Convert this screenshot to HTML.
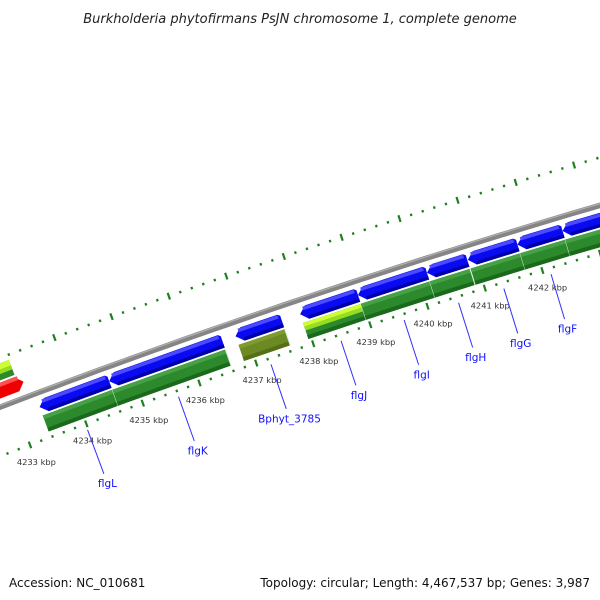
<!DOCTYPE html>
<html><head><meta charset="utf-8"><style>
html,body{margin:0;padding:0;background:#fff;}
svg{display:block;}
text{font-family:"DejaVu Sans","Liberation Sans",sans-serif;}
</style></head><body>
<svg id="map" width="600" height="600" viewBox="0 0 600 600" xmlns="http://www.w3.org/2000/svg">
<rect width="600" height="600" fill="#fff"/>
<text x="300" y="23" text-anchor="middle" font-size="13" font-style="italic" fill="#222">Burkholderia phytofirmans PsJN chromosome 1, complete genome</text>
<g id="ticks"></g>
<g id="backbone"></g>
<g id="features"></g>
<g id="labels"></g>
<text x="9" y="587" font-size="12" fill="#111">Accession: NC_010681</text>
<text x="590" y="587" text-anchor="end" font-size="12" fill="#111">Topology: circular; Length: 4,467,537 bp; Genes: 3,987</text>
</svg>
<script>
// data
const kbpTicks = [4233,4234,4235,4236,4237,4238,4239,4240,4241,4242];
const geneNames = ["flgL","flgK","Bphyt_3785","flgJ","flgI","flgH","flgG","flgF","flgE"];
const geneStarts = [4233.37,4234.60,4236.82,4237.95,4238.96,4240.16,4240.87,4241.73,4242.51];
const geneEnds = [4234.60,4236.59,4237.63,4238.96,4240.16,4240.86,4241.73,4242.51,4244.5];
const geneShowLabel = [true,true,true,true,true,true,true,true,false];
const fwdStarts = [4231.5];
const fwdEnds = [4233.27];

const NS = "http://www.w3.org/2000/svg";
const R = 8000, CX = 2848, CY = 7883, PHIM = -108.8*Math.PI/180, DPHI = 0.0075625, KM = 4237.5;
function pt(kbp, off){
  const phi = PHIM + (kbp-KM)*DPHI;
  const r = R + off;
  return [CX + r*Math.cos(phi), CY + r*Math.sin(phi)];
}
function mk(tag, attrs, parent){
  const e = document.createElementNS(NS, tag);
  for (const k in attrs) e.setAttribute(k, attrs[k]);
  parent.appendChild(e);
  return e;
}
function band(parent, a, b, o1, o2, fill){
  const p = [pt(a,o1),pt(b,o1),pt(b,o2),pt(a,o2)];
  return mk("polygon",{points:p.map(q=>q[0].toFixed(1)+","+q[1].toFixed(1)).join(" "),fill:fill},parent);
}
const gT = document.getElementById("ticks");
const gB = document.getElementById("backbone");
const gF = document.getElementById("features");
const gL = document.getElementById("labels");

// backbone
let d = "";
for (let k=4228;k<=4246;k+=0.25){const q=pt(k,0);d+=(d?"L":"M")+q[0].toFixed(1)+" "+q[1].toFixed(1);}
const bb = mk("path",{d:d,stroke:"#858585","stroke-width":5.5,fill:"none"},gB);


let d2="";
for (let k=4228;k<=4246;k+=0.25){const q=pt(k,1.6);d2+=(d2?"L":"M")+q[0].toFixed(1)+" "+q[1].toFixed(1);}
mk("path",{d:d2,stroke:"#b0b0b0","stroke-width":1.2,fill:"none"},gB);

// tick rings
for (let i=0;i<=70;i++){
  const k = 4231 + i*0.2;
  const major = Math.abs(k-Math.round(k))<0.01;
  const len = major ? 7 : 2.5;
  [[-46,-1],[46,1]].forEach(([base,dir])=>{
    const a = pt(k, base - len/2), b = pt(k, base + len/2);
    const t = mk("line",{x1:a[0],y1:a[1],x2:b[0],y2:b[1],stroke:"#1f7f1f","stroke-width":2.2},gT);
    
    
  });
}
// kbp labels
kbpTicks.forEach(k=>{
  const c = pt(k,-64);
  const t = mk("text",{x:c[0].toFixed(1),y:(c[1]+3).toFixed(1),"text-anchor":"middle","font-size":"8.3",fill:"#333"},gL);
  t.textContent = k + " kbp";
  
  
});

// reverse genes: blue arrows
geneNames.forEach((n,i)=>{
  const a = geneStarts[i], b = geneEnds[i];
  const g = mk("g",{},gF);
  
  
  const o1=-7, o2=-21, tip=0.12, bev=0.04;
  const p = [pt(a,(o1+o2)/2),pt(a+tip,o1),pt(b-bev,o1),pt(b,o1-2),pt(b,o2),pt(a+tip,o2)];
  mk("polygon",{points:p.map(q=>q[0].toFixed(1)+","+q[1].toFixed(1)).join(" "),fill:"#0a0af2"},g);
  band(g,a+tip*0.6,b-bev,o1-0.5,o1-4,"#4a4aff");
  band(g,a+tip,b,o2+3.5,o2,"#0000aa");
  const isOlive = n==="Bphyt_3785";
  const isLime = n==="flgJ";
  const c1 = isOlive?"#809a30":"#46a046", c2 = isOlive?"#6b8a23":"#2c8a2c", c3 = isOlive?"#556f15":"#1b6a1b";
  band(g,a,b,-23,-40,c2);
  band(g,a,b,-23,-27,isLime?"#ccff33":c1);
  if (isLime) band(g,a,b,-27,-31,"#99dd22");
  band(g,a,b,-36,-40,c3);
  const s1 = pt(b,-23), s2 = pt(b,-40);
  mk("line",{x1:s1[0],y1:s1[1],x2:s2[0],y2:s2[1],stroke:"#d8f0d8","stroke-width":1},g);
  if (geneShowLabel[i]) {
    const m = (a+b)/2;
    const l1 = pt(m,-52), l2 = pt(m,-99), tc = pt(m,-109);
    const ln = mk("line",{x1:l1[0],y1:l1[1],x2:l2[0],y2:l2[1],stroke:"#3030ff","stroke-width":1},gL);
    
    
    const t = mk("text",{x:tc[0].toFixed(1),y:(tc[1]+4).toFixed(1),"text-anchor":"middle","font-size":"10.5",fill:"#1010ff"},gL);
    t.textContent = n;
    
    
  }
});

// forward-strand features (outer side)
fwdStarts.forEach((a,i)=>{
  const b = fwdEnds[i];
  const g = mk("g",{},gF);
  
  
  const o1=8,o2=23,tip=0.12;
  const p=[pt(a,o1),pt(b-tip,o1),pt(b,(o1+o2)/2),pt(b-tip,o2),pt(a,o2)];
  mk("polygon",{points:p.map(q=>q[0].toFixed(1)+","+q[1].toFixed(1)).join(" "),fill:"#ee0000"},g);
  band(g,a,b-tip*0.6,o2,o2-4,"#ff5050");
  band(g,a,b-0.1,25,41,"#2c8a2c");
  band(g,a,b-0.1,35,41,"#ccff33");
  band(g,a,b-0.1,31,35,"#99dd22");
});
</script>
</body></html>
